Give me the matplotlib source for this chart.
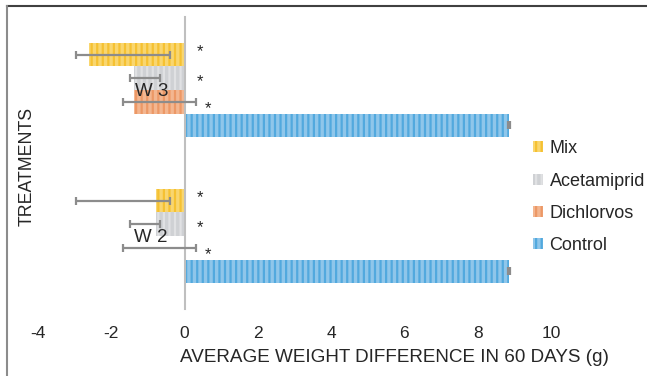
import matplotlib.pyplot as plt
from matplotlib.patches import Patch
from matplotlib.lines import Line2D
import numpy as np

plt.rcParams['font.family'] = ['Liberation Sans', 'DejaVu Sans']
plt.rcParams['axes.unicode_minus'] = False
plt.rcParams['hatch.linewidth'] = 1.6

groups = ["W 2", "W 3"]
series = ["Control", "Dichlorvos", "Acetamiprid", "Mix"]

# bar values per series, order follows groups (W 2, W 3)
control = [8.85, 8.85]
dichlorvos = [0.0, -1.39]
acetamiprid = [-0.79, -1.39]
mix = [-0.79, -2.60]

# error bar ends (low, high) per series, same for both groups
err_low = {"Control": 8.82, "Dichlorvos": -1.68, "Acetamiprid": -1.50, "Mix": -2.96}
err_high = {"Control": 8.88, "Dichlorvos": 0.32, "Acetamiprid": -0.68, "Mix": -0.41}

values = {"Control": control, "Dichlorvos": dichlorvos,
          "Acetamiprid": acetamiprid, "Mix": mix}

face = {"Control": "#8fc6ea", "Dichlorvos": "#f3b690",
        "Acetamiprid": "#cfd1d4", "Mix": "#f9d66f"}
stripe = {"Control": "#52a9de", "Dichlorvos": "#ec9866",
          "Acetamiprid": "#e0e1e3", "Mix": "#f5c132"}

txt = "#262626"

fig = plt.figure(figsize=(6.47, 3.76), dpi=100)
ax = fig.add_axes([38 / 647, 1 - 309 / 376, 513 / 647, 292 / 376])

y = np.arange(len(groups))
h = 0.161
for i, s in enumerate(series):
    off = (i - 1.5) * h
    vals = np.array(values[s])
    ax.barh(y + off, vals, height=h, color=face[s], edgecolor=stripe[s],
            linewidth=0, hatch="|||", zorder=1)
    xerr = [vals - err_low[s], err_high[s] - vals]
    ax.errorbar(vals, y + off, xerr=xerr, fmt="none", ecolor="#8c8c8c",
                elinewidth=1.6, capsize=3, capthick=1.6, zorder=3)

# significance marks
star_x = {"Mix": 0.42, "Acetamiprid": 0.42, "Dichlorvos": 0.64}
star_dy = {"Mix": 0.02, "Acetamiprid": -0.02, "Dichlorvos": -0.05}
for i, s in enumerate(series):
    if s not in star_x:
        continue
    off = (i - 1.5) * h
    for g in y:
        ax.text(star_x[s], g + off + star_dy[s], "*", fontsize=12,
                color=txt, ha="center", va="center", zorder=4)

ax.set_xlim(-4, 10)
ax.set_ylim(-0.5, 1.5)
ax.set_xticks(np.arange(-4, 11, 2))
ax.set_yticks(y)
ax.set_yticklabels(groups)
for sp in ["top", "right", "bottom"]:
    ax.spines[sp].set_visible(False)
ax.spines["left"].set_position(("data", 0))
ax.spines["left"].set_color("#bfbfbf")
ax.spines["left"].set_linewidth(1.5)
ax.spines["left"].set_zorder(2)
ax.tick_params(axis="both", length=0, labelsize=12.5, colors=txt)
ax.tick_params(axis="y", pad=12, labelsize=13.5)
ax.tick_params(axis="x", pad=12)

fig.text(394 / 647, 1 - 357 / 376, "AVERAGE WEIGHT DIFFERENCE IN 60 DAYS (g)",
         ha="center", va="center", fontsize=13.6, color=txt)
fig.text(27 / 647, 1 - 166 / 376, "TREATMENTS", rotation=90,
         ha="center", va="center", fontsize=12.8, color=txt)

handles = [Patch(facecolor=face[s], edgecolor=stripe[s], linewidth=0,
                 hatch="|||", label=s) for s in reversed(series)]
fig.legend(handles=handles, loc="upper left",
           bbox_to_anchor=(526 / 647, 1 - 133 / 376), frameon=False,
           fontsize=13, handlelength=0.55, handleheight=0.55,
           handletextpad=0.35, labelspacing=0.85, labelcolor=txt,
           borderaxespad=0)

# outer chart border (top and left visible)
fig.add_artist(Line2D([7 / 647, 1], [1 - 6 / 376, 1 - 6 / 376],
                      color="#404040", linewidth=1.5))
fig.add_artist(Line2D([7 / 647, 7 / 647], [0, 1 - 6 / 376],
                      color="#8c8c8c", linewidth=1.5))

fig.savefig("out.png", dpi=100)
